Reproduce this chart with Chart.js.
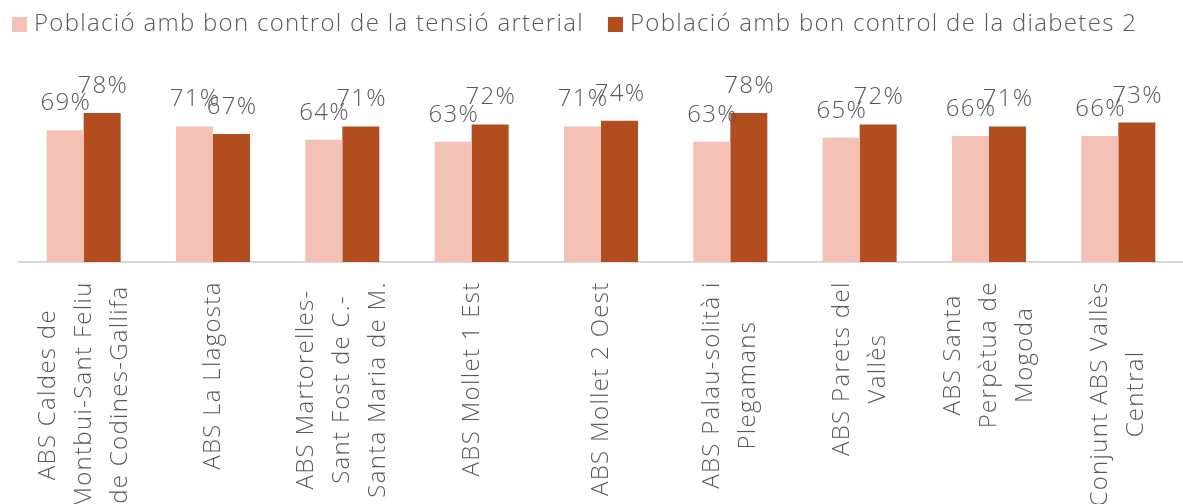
<!DOCTYPE html>
<html>
<head>
<meta charset="utf-8">
<script src="https://cdn.jsdelivr.net/npm/chart.js@4.4.1/dist/chart.umd.min.js"></script>
<style>
  html, body { margin: 0; padding: 0; background: #fff; }
  #wrap { width: 1183px; height: 504px; position: relative; }
</style>
</head>
<body>
<div id="wrap"><canvas id="myChart"></canvas></div>
<script>
const categories = [
  ['ABS Caldes de', 'Montbui-Sant Feliu', 'de Codines-Gallifa'],
  ['ABS La Llagosta'],
  ['ABS Martorelles-', 'Sant Fost de C.-', 'Santa Maria de M.'],
  ['ABS Mollet 1 Est'],
  ['ABS Mollet 2 Oest'],
  ['ABS Palau-solità i', 'Plegamans'],
  ['ABS Parets del', 'Vallès'],
  ['ABS Santa', 'Perpètua de', 'Mogoda'],
  ['Conjunt ABS Vallès', 'Central']
];
const tensio = [69, 71, 64, 63, 71, 63, 65, 66, 66];
const diabetes = [78, 67, 71, 72, 74, 78, 72, 71, 73];
const seriesNames = [
  'Població amb bon control de la tensió arterial',
  'Població amb bon control de la diabetes 2'
];
const seriesColors = ['#F4C1B7', '#B24D20'];

const FONT = "300 24px 'Open Sans', sans-serif";
const SPACING = 1.3;
const TEXT = '#595959';

function setText(ctx) {
  ctx.font = FONT;
  ctx.fillStyle = TEXT;
  if ('letterSpacing' in ctx) ctx.letterSpacing = SPACING + 'px';
}

// value labels above each bar
const barLabels = {
  id: 'barLabels',
  afterDatasetsDraw(chart) {
    const ctx = chart.ctx;
    ctx.save();
    setText(ctx);
    ctx.textAlign = 'center';
    ctx.textBaseline = 'alphabetic';
    chart.data.datasets.forEach((ds, di) => {
      chart.getDatasetMeta(di).data.forEach((bar, i) => {
        ctx.fillText(ds.data[i] + '%', bar.x + SPACING / 2, bar.y - 20);
      });
    });
    ctx.restore();
  }
};

// rotated category labels, lines centred on each other
const axisLabels = {
  id: 'axisLabels',
  afterDraw(chart) {
    const ctx = chart.ctx;
    const x = chart.scales.x;
    ctx.save();
    setText(ctx);
    ctx.textAlign = 'center';
    ctx.textBaseline = 'middle';
    categories.forEach((lines, i) => {
      const cx = x.getPixelForValue(i);
      const w = Math.max(...lines.map(l => ctx.measureText(l).width));
      const cy = chart.chartArea.bottom + 20 + w / 2;
      lines.forEach((l, j) => {
        ctx.save();
        ctx.translate(cx + (j - (lines.length - 1) / 2) * 36, cy - SPACING / 2);
        ctx.rotate(-Math.PI / 2);
        ctx.fillText(l, 0, 0);
        ctx.restore();
      });
    });
    ctx.restore();
  }
};

// legend row at the top left
const legendRow = {
  id: 'legendRow',
  afterDraw(chart) {
    const ctx = chart.ctx;
    ctx.save();
    setText(ctx);
    ctx.textBaseline = 'middle';
    ctx.textAlign = 'left';
    let lx = 12;
    chart.data.datasets.forEach(ds => {
      ctx.fillStyle = ds.backgroundColor;
      ctx.fillRect(lx, 17, 15, 15);
      ctx.fillStyle = TEXT;
      ctx.fillText(ds.label, lx + 22, 24);
      lx += 22 + ctx.measureText(ds.label).width + 24;
    });
    ctx.restore();
  }
};

const data = {
  labels: categories,
  datasets: [
    { label: seriesNames[0], data: tensio, backgroundColor: seriesColors[0] },
    { label: seriesNames[1], data: diabetes, backgroundColor: seriesColors[1] }
  ]
};

const config = {
  type: 'bar',
  data: data,
  options: {
    responsive: true,
    maintainAspectRatio: false,
    animation: false,
    layout: { padding: { top: 71, right: 0, left: 0, bottom: 0 } },
    datasets: {
      bar: { categoryPercentage: 0.572, barPercentage: 1.0 }
    },
    scales: {
      x: {
        grid: { display: false },
        border: { color: '#D9D9D9', width: 2 },
        ticks: { display: false },
        afterFit(s) { s.height = 242; }
      },
      y: {
        min: 0,
        max: 100,
        grid: { display: false },
        border: { display: false },
        ticks: { display: false },
        afterFit(s) { s.width = 19; }
      }
    },
    plugins: {
      legend: { display: false },
      tooltip: { enabled: false }
    }
  },
  plugins: [barLabels, axisLabels, legendRow]
};

const myChart = new Chart(document.getElementById('myChart'), config);
</script>
</body>
</html>
